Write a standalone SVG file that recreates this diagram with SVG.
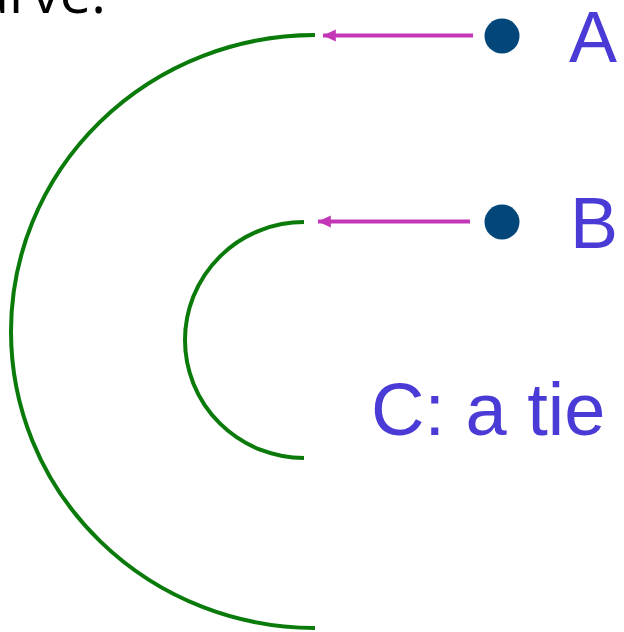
<svg xmlns="http://www.w3.org/2000/svg" width="624" height="632" viewBox="0 0 624 632">
<style>
.arc{fill:none;stroke:#0a7a0a;stroke-width:4}
.ptr{stroke:#c336b6;stroke-width:4;fill:none}
.dot{fill:#03467a}
.lbl{font-family:"Liberation Sans",Arial,sans-serif;font-size:72px;fill:#4a3bd6}
.ttl{font-family:"Open Sans","Liberation Sans",sans-serif;font-size:56px;fill:#000}
</style>
<defs>
<marker id="ah" markerWidth="4" markerHeight="4" refX="3.2" refY="2" orient="auto" markerUnits="strokeWidth">
<path d="M0,0.5 L3.2,2 L0,3.5 Z" fill="#c336b6"/>
</marker>
</defs>
<text class="ttl" x="106" y="13" text-anchor="end">curve:</text>
<g id="arcs">
<path id="arcLarge" class="arc" d="M315,35 A304,296.5 0 0 0 315,628"/>
<path id="arcSmall" class="arc" d="M304,222 A119,118 0 0 0 304,458"/>
</g>
<g id="connectors">
<line class="ptr" x1="473" y1="35.5" x2="323" y2="35.5" marker-end="url(#ah)"/>
<line class="ptr" x1="470" y1="221.5" x2="318" y2="221.5" marker-end="url(#ah)"/>
</g>
<g id="nodeA">
<circle class="dot" cx="502" cy="36" r="17.5"/>
<text class="lbl" x="569" y="62">A</text>
</g>
<g id="nodeB">
<circle class="dot" cx="502" cy="222" r="17.5"/>
<text class="lbl" x="570" y="248">B</text>
</g>
<g id="nodeC">
<text class="lbl" x="371" y="435" style="font-size:74px">C: a tie</text>
</g>
</svg>
